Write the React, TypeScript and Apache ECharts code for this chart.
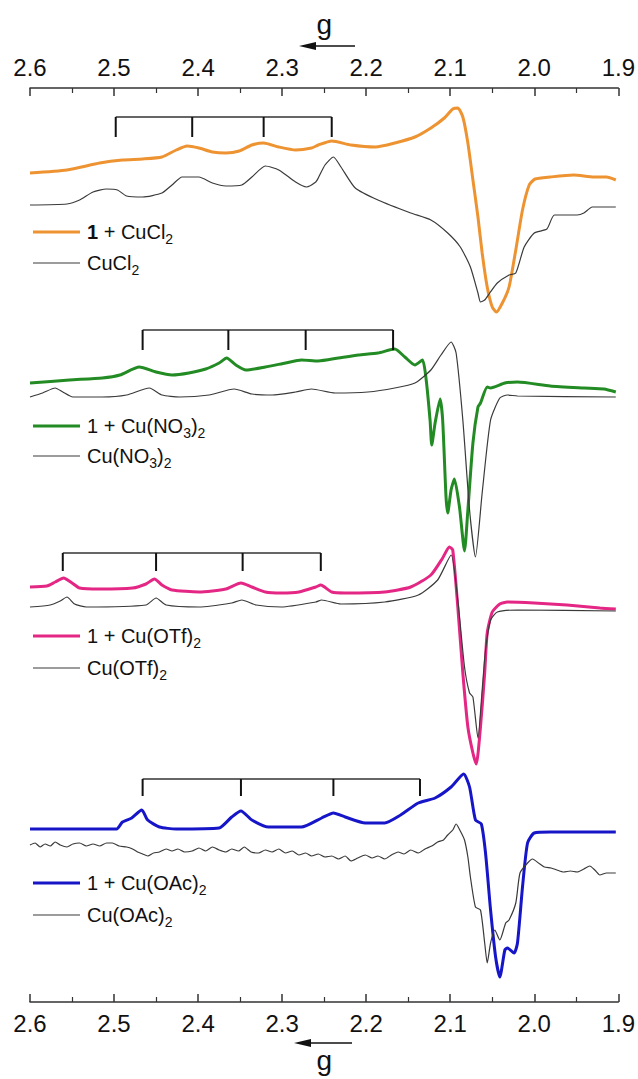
import React, { useEffect, useRef } from "react";
import * as echarts from "echarts";

// g-value tick range (axis runs from 2.6 on the left to 1.9 on the right)
const gMin = 1.9;
const gMax = 2.6;
const gStep = 0.1;

// Spectra: [g, intensity (a.u., stacked offsets included)]
const cuCl2Complex: [number, number][] = [
  [2.6, 829], [2.556, 832], [2.517, 839], [2.49, 842], [2.466, 843], [2.443, 845], [2.426, 852],
  [2.413, 856], [2.399, 854], [2.383, 850], [2.367, 849], [2.351, 851], [2.336, 857], [2.322, 859],
  [2.304, 855], [2.284, 852], [2.265, 854], [2.257, 857], [2.241, 861], [2.218, 857], [2.189, 855],
  [2.166, 859], [2.142, 865], [2.123, 874], [2.107, 884], [2.097, 893], [2.091, 894], [2.085, 885],
  [2.079, 859], [2.073, 822], [2.067, 785], [2.062, 749], [2.056, 715], [2.05, 695], [2.045, 690],
  [2.038, 699], [2.03, 715], [2.022, 752], [2.014, 792], [2.006, 817], [1.999, 823], [1.981, 825],
  [1.953, 827], [1.929, 825], [1.914, 825], [1.903, 822],
];
const cuCl2Salt: [number, number][] = [
  [2.6, 797], [2.556, 798], [2.541, 802], [2.525, 810], [2.509, 813], [2.496, 812], [2.485, 806],
  [2.466, 805], [2.443, 809], [2.431, 817], [2.419, 825], [2.399, 825], [2.383, 819], [2.367, 816],
  [2.348, 817], [2.336, 825], [2.32, 836], [2.304, 832], [2.284, 820], [2.271, 815], [2.26, 820],
  [2.257, 824], [2.249, 837], [2.239, 845], [2.23, 835], [2.213, 814], [2.186, 802], [2.147, 789],
  [2.123, 782], [2.103, 769], [2.088, 755], [2.076, 735], [2.067, 709], [2.064, 700], [2.059, 702],
  [2.053, 709], [2.044, 719], [2.03, 727], [2.022, 729], [2.012, 755], [2.0, 769], [1.985, 773],
  [1.976, 787], [1.949, 787], [1.941, 789], [1.931, 795], [1.903, 795],
];
const cuNO3Complex: [number, number][] = [
  [2.6, 619], [2.553, 622], [2.514, 624], [2.493, 627], [2.47, 635], [2.45, 630], [2.431, 627],
  [2.411, 629], [2.391, 633], [2.375, 639], [2.366, 644], [2.355, 637], [2.343, 632], [2.32, 635],
  [2.296, 639], [2.277, 642], [2.257, 641], [2.233, 644], [2.209, 647], [2.186, 649], [2.166, 653],
  [2.154, 645], [2.142, 637], [2.133, 642], [2.129, 625], [2.124, 582], [2.122, 557], [2.118, 579],
  [2.112, 603], [2.109, 582], [2.105, 505], [2.103, 489], [2.099, 512], [2.095, 523], [2.089, 495],
  [2.083, 451], [2.079, 492], [2.073, 559], [2.067, 595], [2.064, 599], [2.056, 615], [2.052, 614],
  [2.035, 619], [2.02, 620], [1.981, 616], [1.941, 614], [1.917, 613], [1.903, 610],
];
const cuNO3Salt: [number, number][] = [
  [2.6, 605], [2.585, 609], [2.57, 614], [2.561, 610], [2.549, 605], [2.514, 605], [2.485, 607],
  [2.458, 614], [2.443, 607], [2.422, 605], [2.387, 607], [2.357, 613], [2.336, 608], [2.312, 607],
  [2.284, 610], [2.265, 613], [2.237, 609], [2.198, 610], [2.166, 614], [2.142, 619], [2.123, 632],
  [2.111, 647], [2.099, 660], [2.093, 649], [2.085, 582], [2.077, 492], [2.07, 445], [2.062, 509],
  [2.052, 582], [2.041, 604], [2.032, 607], [2.02, 606], [1.903, 605],
];
const cuOTfComplex: [number, number][] = [
  [2.6, 415], [2.58, 416], [2.57, 420], [2.56, 424], [2.55, 419], [2.541, 414], [2.517, 413],
  [2.478, 414], [2.462, 418], [2.452, 423], [2.443, 417], [2.431, 412], [2.399, 410], [2.367, 413],
  [2.349, 419], [2.336, 415], [2.32, 410], [2.301, 409], [2.28, 410], [2.26, 415], [2.254, 417],
  [2.241, 410], [2.225, 409], [2.178, 410], [2.147, 415], [2.123, 427], [2.109, 444], [2.101, 455],
  [2.097, 452], [2.091, 395], [2.085, 329], [2.079, 275], [2.073, 249], [2.069, 238], [2.064, 275],
  [2.059, 329], [2.056, 369], [2.05, 390], [2.041, 398], [2.032, 400], [2.0, 399], [1.961, 397],
  [1.922, 394], [1.903, 393],
];
const cuOTfSalt: [number, number][] = [
  [2.6, 395], [2.576, 397], [2.564, 401], [2.556, 405], [2.547, 398], [2.533, 395], [2.462, 397],
  [2.45, 404], [2.438, 397], [2.399, 395], [2.36, 399], [2.348, 402], [2.331, 397], [2.301, 395],
  [2.26, 400], [2.253, 402], [2.23, 398], [2.178, 400], [2.138, 407], [2.115, 422], [2.099, 447],
  [2.091, 402], [2.083, 335], [2.077, 309], [2.073, 305], [2.067, 264], [2.062, 312], [2.058, 352],
  [2.052, 382], [2.044, 390], [2.02, 392], [1.903, 391],
];
const cuOAcComplex: [number, number][] = [
  [2.6, 173], [2.497, 173], [2.49, 180], [2.479, 184], [2.467, 192], [2.46, 182], [2.446, 175],
  [2.426, 173], [2.375, 174], [2.36, 185], [2.349, 191], [2.336, 182], [2.316, 175], [2.277, 175],
  [2.253, 184], [2.239, 189], [2.225, 185], [2.201, 179], [2.178, 179], [2.159, 187], [2.138, 199],
  [2.118, 204], [2.099, 215], [2.084, 228], [2.077, 215], [2.07, 182], [2.063, 178], [2.058, 149],
  [2.052, 92], [2.046, 45], [2.041, 25], [2.035, 52], [2.032, 54], [2.024, 49], [2.02, 59],
  [2.014, 115], [2.008, 159], [2.0, 169], [1.981, 170], [1.903, 170],
];
const cuOAcSalt: [number, number][] = [
  [2.6, 157], [2.594, 159], [2.588, 155], [2.582, 158], [2.576, 156], [2.57, 160], [2.564, 157],
  [2.556, 155], [2.549, 158], [2.541, 159], [2.533, 156], [2.525, 158], [2.517, 156], [2.509, 159],
  [2.502, 159], [2.494, 156], [2.485, 155], [2.478, 153], [2.472, 150], [2.466, 148], [2.46, 146],
  [2.453, 149], [2.446, 150], [2.438, 153], [2.431, 151], [2.424, 153], [2.416, 150], [2.407, 151],
  [2.399, 154], [2.391, 151], [2.383, 155], [2.375, 152], [2.367, 150], [2.36, 153], [2.352, 151],
  [2.345, 155], [2.337, 150], [2.328, 149], [2.32, 152], [2.312, 150], [2.304, 153], [2.296, 149],
  [2.288, 151], [2.28, 147], [2.272, 149], [2.265, 146], [2.257, 148], [2.249, 145], [2.241, 146],
  [2.233, 143], [2.225, 146], [2.218, 141], [2.21, 144], [2.201, 147], [2.193, 144], [2.186, 146],
  [2.178, 143], [2.17, 147], [2.162, 150], [2.155, 148], [2.147, 152], [2.138, 149], [2.13, 153],
  [2.122, 156], [2.115, 160], [2.108, 162], [2.103, 167], [2.097, 172], [2.093, 178], [2.088, 171],
  [2.083, 162], [2.079, 145], [2.076, 125], [2.07, 95], [2.064, 92], [2.059, 59], [2.056, 39],
  [2.052, 59], [2.047, 72], [2.041, 62], [2.034, 79], [2.03, 82], [2.022, 99], [2.017, 129],
  [2.008, 139], [2.002, 143], [1.995, 139], [1.988, 135], [1.98, 134], [1.973, 132], [1.965, 130],
  [1.957, 131], [1.949, 130], [1.941, 133], [1.934, 136], [1.928, 132], [1.922, 127], [1.914, 129],
  [1.903, 129],
];

// Hyperfine brackets: [g1, g2, g3, g4, top, bottom]
const hyperfineBrackets: number[][] = [
  [2.498, 2.407, 2.322, 2.241, 885, 865],
  [2.466, 2.364, 2.272, 2.168, 672, 652],
  [2.561, 2.45, 2.347, 2.254, 449, 431],
  [2.466, 2.349, 2.239, 2.136, 223, 206],
];

const seriesNames = [
  "1 + CuCl2", "CuCl2",
  "1 + Cu(NO3)2", "Cu(NO3)2",
  "1 + Cu(OTf)2", "Cu(OTf)2",
  "1 + Cu(OAc)2", "Cu(OAc)2",
];
const legendLabels = [
  "{b|1}{m| + CuCl}{s|2}", "{m|CuCl}{s|2}",
  "{m|1 + Cu(NO}{s|3}{m|)}{s|2}", "{m|Cu(NO}{s|3}{m|)}{s|2}",
  "{m|1 + Cu(OTf)}{s|2}", "{m|Cu(OTf)}{s|2}",
  "{m|1 + Cu(OAc)}{s|2}", "{m|Cu(OAc)}{s|2}",
];
const seriesData = [cuCl2Complex, cuCl2Salt, cuNO3Complex, cuNO3Salt, cuOTfComplex, cuOTfSalt, cuOAcComplex, cuOAcSalt];
const seriesColors = ["#EE9331", "#3a3a3a", "#238B23", "#3a3a3a", "#E42684", "#3a3a3a", "#1616C8", "#3a3a3a"];
const legendCenters = [232, 263, 426, 456, 636, 668, 883, 915];

const FONT = "Arial, 'Liberation Sans', Helvetica, sans-serif";

export default function App() {
  const ref = useRef<HTMLDivElement>(null);
  useEffect(() => {
    document.body.style.margin = "0";
    if (!ref.current) return;
    const chart = echarts.init(ref.current, undefined, { renderer: "svg" });

    const xAxisBase = {
      type: "value",
      min: gMin,
      max: gMax,
      interval: gStep,
      inverse: true,
      name: "g",
      nameLocation: "middle",
      nameTextStyle: { fontSize: 28, fontFamily: FONT, color: "#111" },
      axisLine: { show: true, onZero: false, lineStyle: { color: "#333", width: 1.5 } },
      axisTick: { show: true, inside: true, length: 8, lineStyle: { color: "#333", width: 1.5 } },
      minorTick: { show: true, splitNumber: 2, length: 5, lineStyle: { color: "#333", width: 1.2 } },
      splitLine: { show: false },
      minorSplitLine: { show: false },
      axisLabel: {
        fontSize: 24,
        fontFamily: FONT,
        color: "#111",
        margin: 9,
        formatter: (v: number) => v.toFixed(1),
      },
    };

    const lineSeries = seriesData.map((d, i) => ({
      type: "line",
      name: seriesNames[i],
      data: d,
      showSymbol: false,
      symbol: "none",
      smooth: 0.2,
      z: i % 2 === 0 ? 2 : 3,
      color: seriesColors[i],
      lineStyle: { color: seriesColors[i], width: i % 2 === 0 ? 3 : 1.2 },
    }));

    const legendGraphics: any[] = [];
    seriesNames.forEach((_n, i) => {
      const cy = legendCenters[i];
      legendGraphics.push({
        type: "line",
        shape: { x1: 33, y1: cy, x2: 80, y2: cy },
        style: { stroke: seriesColors[i], lineWidth: i % 2 === 0 ? 3 : 1.2 },
      });
      legendGraphics.push({
        type: "text",
        x: 87,
        y: cy,
        style: {
          text: legendLabels[i],
          fontSize: 20,
          fontFamily: FONT,
          fill: "#111",
          verticalAlign: "middle",
          rich: {
            m: { fontSize: 20, fontFamily: FONT, fill: "#111", lineHeight: 22 },
            b: { fontSize: 20, fontFamily: FONT, fontWeight: "bold", fill: "#111", lineHeight: 22 },
            s: { fontSize: 14, fontFamily: FONT, fill: "#111", lineHeight: 15, padding: [13, 0, 0, 0] },
          },
        },
      });
    });

    chart.setOption({
      animation: false,
      backgroundColor: "#fff",
      grid: { left: 30, right: 17, top: 88, bottom: 77 },
      xAxis: [
        { ...xAxisBase, position: "bottom", nameGap: 44 },
        { ...xAxisBase, position: "top", nameGap: 50 },
      ],
      yAxis: { type: "value", min: 0, max: 914, show: false },
      series: [
        ...lineSeries,
        {
          type: "custom",
          name: "hyperfine",
          data: hyperfineBrackets,
          encode: { x: [0, 1, 2, 3], y: [4, 5] },
          z: 5,
          renderItem: (_p: any, api: any) => {
            const yT = api.value(4);
            const yB = api.value(5);
            const top = api.coord([api.value(0), yT])[1];
            const bot = api.coord([api.value(0), yB])[1];
            const xs = [0, 1, 2, 3].map((k) => api.coord([api.value(k), yT])[0]);
            const children: any[] = [
              { type: "line", shape: { x1: xs[0], y1: top, x2: xs[3], y2: top }, style: { stroke: "#333", lineWidth: 1.3 } },
            ];
            xs.forEach((x) =>
              children.push({ type: "line", shape: { x1: x, y1: top, x2: x, y2: bot }, style: { stroke: "#111", lineWidth: 2 } })
            );
            return { type: "group", children };
          },
        },
      ],
      graphic: [
        {
          type: "group",
          children: [
            { type: "line", shape: { x1: 305, y1: 46, x2: 355, y2: 46 }, style: { stroke: "#111", lineWidth: 1.5 } },
            { type: "polygon", shape: { points: [[299, 46], [316, 42], [316, 50]] }, style: { fill: "#111" } },
            { type: "line", shape: { x1: 300, y1: 1043, x2: 352, y2: 1043 }, style: { stroke: "#111", lineWidth: 1.5 } },
            { type: "polygon", shape: { points: [[294, 1043], [311, 1039], [311, 1047]] }, style: { fill: "#111" } },
          ],
        },
        { type: "group", children: legendGraphics },
      ],
    });
    return () => chart.dispose();
  }, []);
  return <div ref={ref} style={{ width: 638, height: 1079 }} />;
}
